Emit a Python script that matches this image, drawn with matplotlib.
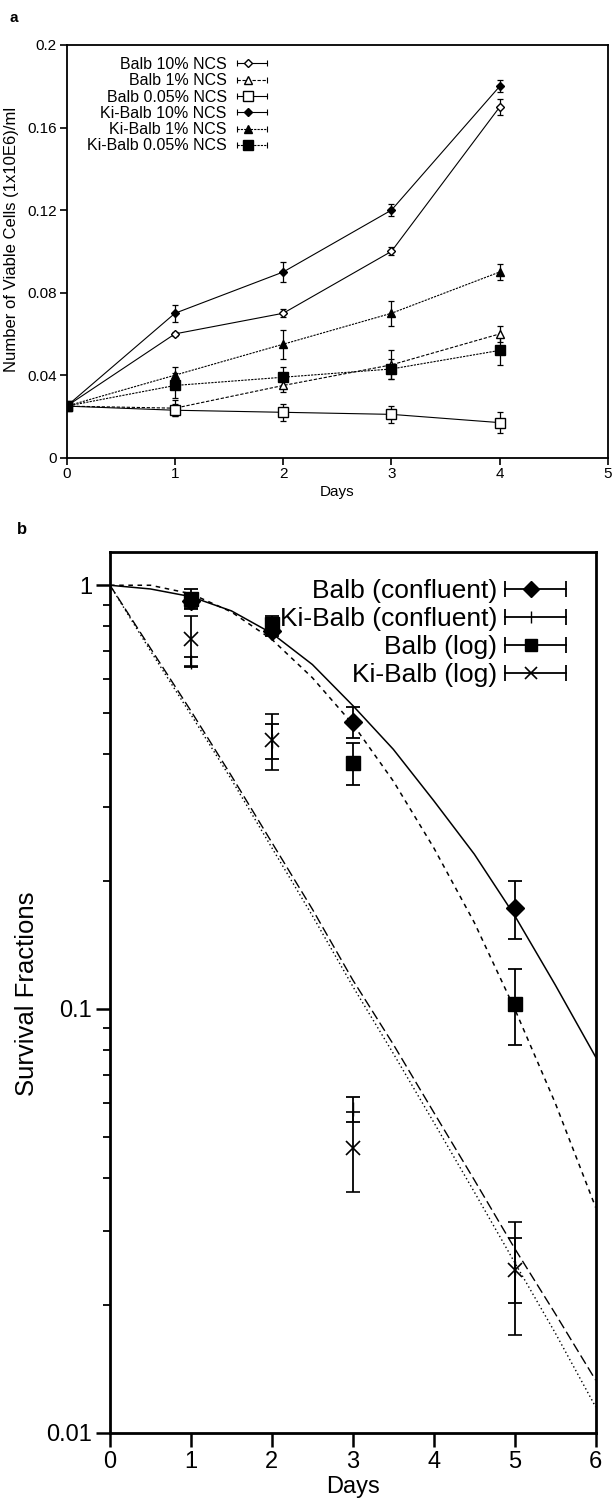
import numpy as np
import matplotlib
matplotlib.use("Agg")
import matplotlib.pyplot as plt
from matplotlib.lines import Line2D
from matplotlib.legend_handler import HandlerBase

plt.rcParams['font.family'] = ['Liberation Sans', 'DejaVu Sans']

# ---- panel a data ----
days_a = [0, 1, 2, 3, 4]
a_labels = ["Balb 10% NCS", "Balb 1% NCS", "Balb 0.05% NCS",
            "Ki-Balb 10% NCS", "Ki-Balb 1% NCS", "Ki-Balb 0.05% NCS"]
balb10 = [0.025, 0.060, 0.070, 0.100, 0.170]
balb10_err = [0, 0.001, 0.002, 0.002, 0.004]
balb1 = [0.025, 0.024, 0.035, 0.045, 0.060]
balb1_err = [0, 0.004, 0.003, 0.007, 0.004]
balb005 = [0.025, 0.023, 0.022, 0.021, 0.017]
balb005_err = [0, 0.003, 0.004, 0.004, 0.005]
ki10 = [0.025, 0.070, 0.090, 0.120, 0.180]
ki10_err = [0, 0.004, 0.005, 0.003, 0.003]
ki1 = [0.025, 0.040, 0.055, 0.070, 0.090]
ki1_err = [0, 0.004, 0.007, 0.006, 0.004]
ki005 = [0.025, 0.035, 0.039, 0.043, 0.052]
ki005_err = [0, 0.006, 0.005, 0.005, 0.007]

# ---- panel b data ----
b_labels = ["Balb (confluent)", "Ki-Balb (confluent)", "Balb (log)", "Ki-Balb (log)"]
bc_days = [1, 2, 3, 5]
bc_vals = [0.92, 0.78, 0.476, 0.173]
bc_err = [0.04, 0.02, 0.04, 0.027]
kc_days = [1, 2, 3, 5]
kc_vals = [0.66, 0.43, 0.058, 0.0245]
kc_err = [0.017, 0.04, 0.004, 0.0043]
bl_days = [1, 2, 3, 5]
bl_vals = [0.93, 0.81, 0.381, 0.103]
bl_err = [0.048, 0.035, 0.044, 0.021]
kl_days = [1, 2, 3, 5]
kl_vals = [0.745, 0.431, 0.047, 0.0242]
kl_err = [0.10, 0.065, 0.01, 0.0072]

fit_days = [0, 0.5, 1, 1.5, 2, 2.5, 3, 3.5, 4, 4.5, 5, 5.5, 6]
fit_bc = [1.0, 0.98, 0.94, 0.87, 0.77, 0.65, 0.52, 0.41, 0.31, 0.232, 0.166, 0.114, 0.077]
fit_bl = [1.0, 1.0, 0.955, 0.865, 0.745, 0.605, 0.47, 0.345, 0.24, 0.16, 0.10, 0.06, 0.034]
fit_kc = [1.0, 0.71, 0.505, 0.355, 0.247, 0.172, 0.117, 0.0825, 0.057, 0.0395, 0.0272, 0.0191, 0.0133]
fit_kl = [1.0, 0.70, 0.495, 0.348, 0.240, 0.166, 0.113, 0.0785, 0.054, 0.037, 0.0252, 0.0172, 0.0115]


class BarHandler(HandlerBase):
    # legend key drawn as |--o----|
    def __init__(self, frac=0.4, cap=6):
        super().__init__()
        self.frac = frac
        self.cap = cap

    def create_artists(self, legend, orig_handle, xdescent, ydescent,
                       width, height, fontsize, trans):
        y = height / 2 - ydescent
        x0, x1 = -xdescent, width - xdescent
        line = Line2D([x0, x1], [y, y])
        line.update_from(orig_handle)
        line.set_marker('None')
        caps = Line2D([x0, x1], [y, y], ls='none', marker='|', ms=self.cap,
                      mew=orig_handle.get_linewidth(), color='k')
        mk = Line2D([x0 + self.frac * (x1 - x0)], [y])
        mk.update_from(orig_handle)
        mk.set_linestyle('none')
        arts = [line, caps, mk]
        for a in arts:
            a.set_transform(trans)
        return arts


W, H = 612, 1501
fig = plt.figure(figsize=(W / 100, H / 100), dpi=100)

# ================= panel a =================
ax = fig.add_axes([66.7 / W, 1 - 457.7 / H, (608 - 66.7) / W, (457.7 - 45) / H])
series_a = [
    (balb10, balb10_err, dict(marker='D', ms=4.5, mfc='white', ls='-')),
    (balb1, balb1_err, dict(marker='^', ms=5.5, mfc='white', ls=(0, (3, 1.5)))),
    (balb005, balb005_err, dict(marker='s', ms=6.5, mfc='white', ls='-')),
    (ki10, ki10_err, dict(marker='D', ms=4.5, mfc='k', ls='-')),
    (ki1, ki1_err, dict(marker='^', ms=5.5, mfc='k', ls=(0, (2, 1)))),
    (ki005, ki005_err, dict(marker='s', ms=7, mfc='k', ls=(0, (2, 1)))),
]
handles_a = []
for (vals, err, st), lab in zip(series_a, a_labels):
    c = ax.errorbar(days_a, vals, yerr=err, color='k', mec='k', lw=0.8,
                    elinewidth=0.9, capsize=2.5, capthick=0.9, label=lab, **st)
    handles_a.append(c[0])

ax.set_xlim(0, 5)
ax.set_ylim(0, 0.2)
ax.set_xticks([0, 1, 2, 3, 4, 5])
ax.set_yticks([0, 0.04, 0.08, 0.12, 0.16, 0.2], ['0', '0.04', '0.08', '0.12', '0.16', '0.2'])
ax.tick_params(direction='out', length=5, width=1.2, labelsize=11, pad=2)
for s in ax.spines.values():
    s.set_linewidth(1.3)
ax.set_xlabel('Days', fontsize=11)
ax.xaxis.set_label_coords(0.5, -0.066)
ax.set_ylabel('Number of Viable Cells (1x10E6)/ml', fontsize=12)
ax.yaxis.set_label_coords(-0.088, 0.53)
ax.legend(handles_a, a_labels, handler_map={Line2D: BarHandler(0.38, 5)},
          markerfirst=False, frameon=False, fontsize=11.5, labelspacing=0.08,
          handlelength=1.9, handletextpad=0.62, borderpad=0, borderaxespad=0,
          loc='upper right', bbox_to_anchor=(267 / W, 1 - 57 / H),
          bbox_transform=fig.transFigure)
fig.text(10 / W, 1 - 18 / H, 'a', fontsize=11, fontweight='bold', va='center')

# ================= panel b =================
bx = fig.add_axes([110 / W, 1 - 1432.7 / H, (595.7 - 110) / W, (1432.7 - 551.7) / H])
bx.set_yscale('log')
bx.plot(fit_days, fit_bc, color='k', lw=1.1, ls='-')
bx.plot(fit_days, fit_bl, color='k', lw=1.1, ls=(0, (3, 3)))
bx.plot(fit_days, fit_kc, color='k', lw=1.0, ls=(0, (7, 3)))
bx.plot(fit_days, fit_kl, color='k', lw=1.0, ls=(0, (1, 2)))

series_b = [
    (bc_days, bc_vals, bc_err, dict(marker='D', ms=9)),
    (kc_days, kc_vals, kc_err, dict(marker='|', ms=10)),
    (bl_days, bl_vals, bl_err, dict(marker='s', ms=10.5)),
    (kl_days, kl_vals, kl_err, dict(marker='x', ms=10, mew=1.2)),
]
handles_b = []
for (d, v, e, st), lab in zip(series_b, b_labels):
    c = bx.errorbar(d, v, yerr=e, color='k', ls='none', elinewidth=1.3,
                    capsize=5, capthick=1.3, mfc='k', mec='k', label=lab, **st)
    handles_b.append(c[0])

bx.set_xlim(0, 6)
bx.set_ylim(0.01, 1.2)
bx.set_xticks([0, 1, 2, 3, 4, 5, 6])
bx.set_yticks([0.01, 0.1, 1], ['0.01', '0.1', '1'])
bx.yaxis.set_minor_formatter(matplotlib.ticker.NullFormatter())
bx.tick_params(which='major', direction='out', length=10, width=1.8, labelsize=17, pad=3)
bx.tick_params(which='minor', direction='out', length=5, width=1.3)
for s in bx.spines.values():
    s.set_linewidth(2)
bx.set_xlabel('Days', fontsize=17)
bx.xaxis.set_label_coords(0.5, -0.049)
bx.set_ylabel('Survival Fractions', fontsize=18.5)
bx.yaxis.set_label_coords(-0.146, 0.498)

legend_keys = []
for h in handles_b:
    k = Line2D([], [], color='k', lw=1.3, ls='-', marker=h.get_marker(),
               ms=h.get_markersize() * 0.85, mfc='k', mec='k', mew=h.get_markeredgewidth())
    legend_keys.append(k)
bx.legend(legend_keys, b_labels, handler_map={Line2D: BarHandler(0.43, 12)},
          markerfirst=False, frameon=False, fontsize=19, labelspacing=0.15,
          handlelength=2.3, handletextpad=0.3, borderpad=0, borderaxespad=0,
          loc='upper right', bbox_to_anchor=(566 / W, 1 - 579 / H),
          bbox_transform=fig.transFigure)
fig.text(17 / W, 1 - 530 / H, 'b', fontsize=12, fontweight='bold', va='center')

fig.savefig('out.png', dpi=100)
